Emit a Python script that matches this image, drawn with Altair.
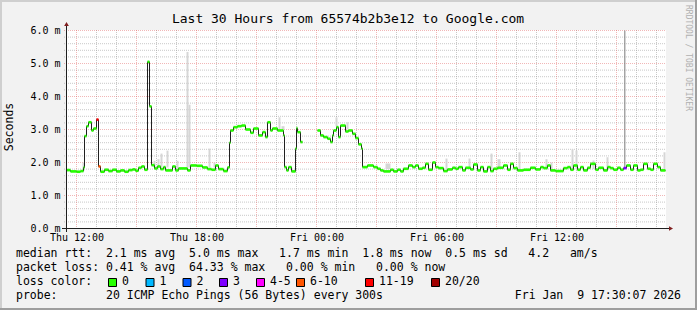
import json
import altair as alt
import numpy as np
import pandas as pd

# ---------------- data ----------------
# minutes after Thu 11:30 (start of the 30 hour window); None = no data from here on
median_min = [0, 12, 30, 42, 51, 54, 60, 66, 75, 81, 90, 96, 102, 114, 126, 138, 150, 162, 174, 186,
              198, 207, 216, 225, 234, 243, 249, 255, 264, 273, 282, 291, 297, 318, 327, 336, 363, 372, 390, 408,
              423, 435, 447, 456, 471, 483, 489, 492, 501, 513, 525, 537, 552, 561, 576, 588, 597, 603, 612, 618,
              633, 651, 654, 660, 666, 675, 687, 690, 693, 702, 708, 753, 762, 771, 783, 792, 798, 801, 810, 816,
              822, 837, 846, 858, 867, 876, 885, 888, 903, 921, 933, 942, 951, 972, 981, 993, 1002, 1011, 1026, 1038,
              1047, 1056, 1068, 1077, 1086, 1098, 1107, 1116, 1131, 1143, 1158, 1167, 1176, 1188, 1197, 1212, 1221, 1233, 1242, 1251,
              1263, 1272, 1281, 1293, 1311, 1323, 1332, 1341, 1353, 1371, 1392, 1407, 1422, 1431, 1443, 1452, 1467, 1491, 1503, 1512,
              1521, 1533, 1542, 1551, 1563, 1572, 1587, 1596, 1611, 1623, 1632, 1641, 1653, 1662, 1671, 1680, 1692, 1701, 1713, 1722,
              1731, 1743, 1752, 1761, 1773, 1782, 1797]
median_ms = [1.77, 1.73, 1.72, 1.74, 1.85, 2.80, 3.10, 3.22, 2.97, 3.03, 3.30, 1.88, 1.72, 1.78, 1.74, 1.78, 1.73, 1.76, 1.72, 1.77,
             1.79, 1.75, 1.84, 1.88, 1.78, 5.05, 3.70, 1.92, 1.82, 1.88, 1.80, 1.86, 1.76, 1.88, 1.76, 1.82, 1.76, 1.91, 1.90, 1.85,
             1.80, 1.78, 1.91, 1.80, 1.74, 1.85, 2.60, 2.97, 3.07, 3.10, 3.12, 3.00, 2.90, 3.03, 2.82, 2.92, 2.77, 3.22, 2.97, 3.03,
             2.97, 2.82, 1.86, 1.76, 1.86, 1.73, 2.42, 3.04, 2.92, 2.62, None, 2.97, 2.82, 2.77, 2.72, 2.62, 2.82, 2.97, 3.07, 2.77,
             3.12, 2.94, 2.97, 2.87, 2.74, 2.55, 2.42, 1.86, 1.91, 1.86, 1.81, 1.76, 1.73, 1.78, 1.73, 1.78, 1.73, 1.81, 1.91, 1.86,
             1.91, 1.81, 1.84, 1.96, 1.78, 2.00, 1.86, 1.83, 1.74, 1.79, 1.84, 1.81, 1.86, 1.76, 1.84, 1.79, 1.94, 1.76, 1.86, 1.73,
             1.86, 1.74, 1.81, 1.84, 1.91, 1.78, 1.96, 1.83, 1.76, 1.78, 1.84, 1.79, 1.86, 1.83, 1.91, 1.76, 1.74, 1.83, 1.86, 1.78,
             1.91, 1.78, 1.86, 1.76, 1.84, 1.96, 1.78, 1.84, 1.76, 1.86, 1.83, 1.78, 1.84, 1.78, 1.83, 1.91, 1.78, 1.91, 1.76, 1.78,
             1.96, 1.81, 1.78, 1.96, 1.86, 1.76, None]
assert len(median_min) == len(median_ms)

# samples with packet loss (all others lost 0 of 20)
loss_event_min = [90, 96, 1671]
loss_event_cat = ["11-19", "6-10", "3"]

loss_labels = ["0", "1", "2", "3", "4-5", "6-10", "11-19", "20/20"]
loss_colors = ["#26ff00", "#00b8ff", "#0059ff", "#7e00ff", "#ff00ff", "#ff5500", "#ff0000", "#a10000"]

# smoke (spread of the 20 pings) in minutes / ms
smoke_start = [48, 261, 273, 282, 300, 330, 360, 366, 426, 441, 636, 645, 807, 840, 957, 1137, 1206, 1272, 1293, 1356,
               1437, 1452, 1515, 1527, 1578, 1620, 1791]
smoke_end = [54, 267, 279, 288, 306, 336, 366, 372, 432, 447, 642, 654, 813, 846, 972, 1143, 1212, 1278, 1302, 1362,
             1443, 1458, 1521, 1533, 1584, 1626, 1797]
smoke_low = [1.75, 1.85, 1.85, 1.85, 1.85, 1.80, 1.85, 1.85, 1.85, 1.85, 3.00, 3.00, 3.10, 3.00, 1.80, 1.80, 1.80, 1.80, 1.80, 1.80,
             1.80, 1.80, 1.80, 1.80, 1.80, 1.80, 1.80]
smoke_high = [2.00, 2.05, 2.10, 2.27, 2.36, 2.05, 5.35, 3.75, 2.42, 2.00, 3.37, 3.10, 3.37, 3.22, 1.97, 2.12, 2.12, 2.27, 2.10, 2.31,
              2.10, 2.00, 2.40, 2.36, 2.06, 2.16, 2.31]

# single slow ping far above the scale
outlier_min = [1675]
outlier_low = [1.85]
outlier_high = [6.0]

x_tick_min = [30, 390, 750, 1110, 1470]
x_tick_labels = ["Thu 12:00", "Thu 18:00", "Fri 00:00", "Fri 06:00", "Fri 12:00"]
y_ticks = [0, 1, 2, 3, 4, 5, 6]

title_text = "Last 30 Hours from 65574b2b3e12 to Google.com"
legend_rtt = "median rtt:  2.1 ms avg  5.0 ms max   1.7 ms min  1.8 ms now  0.5 ms sd   4.2   am/s"
legend_loss = "packet loss: 0.41 % avg  64.33 % max   0.00 % min   0.00 % now"
legend_color = "loss color:"
legend_probe = "probe:       20 ICMP Echo Pings (56 Bytes) every 300s"
legend_date = "Fri Jan  9 17:30:07 2026"
watermark = "RRDTOOL / TOBI OETIKER"

# ---------------- layout ----------------
FONT = "DejaVu Sans Mono"
W, H = 600, 198
LEFT, TOP = 66, 30
BAND = 0.04
loss_box_px = [108, 145.5, 182.5, 219, 256, 296, 365, 431]

XS = alt.Scale(domain=[0, 1800], range=[0.5, W + 0.5], nice=False, zero=False)
YS = alt.Scale(domain=[0, 6], range=[H + 0.5, 0.5], nice=False, zero=False)
label_expr = f"{json.dumps(x_tick_labels)}[indexof({json.dumps(x_tick_min)}, datum.value)]"
X_AX = alt.Axis(values=x_tick_min, labelExpr=label_expr, grid=False, ticks=False, domain=False,
                labelFont=FONT, labelFontSize=10, labelColor="#000000", labelPadding=4,
                labelFlush=False, labelOverlap=False, title=None)
Y_AX = alt.Axis(values=y_ticks, labelExpr="format(datum.value, '.1f') + ' m'", grid=False, ticks=False,
                domain=False, labelFont=FONT, labelFontSize=10, labelColor="#000000", labelPadding=6,
                labelOverlap=False, title=None)


def ax(px):
    return px - LEFT


def ay(py):
    return py - TOP


one = pd.DataFrame({"k": [0]})


def txt(s, x, y, size=11.5, align="left", color="#000000", angle=0):
    s = s.replace(" ", "\u00a0")
    return alt.Chart(pd.DataFrame({"s": [s]})).mark_text(
        font=FONT, fontSize=size, align=align, baseline="middle", color=color, angle=angle
    ).encode(text="s:N", x=alt.value(x), y=alt.value(y))


def hline(x1, x2, y, color, w=1):
    return alt.Chart(one).mark_rule(color=color, strokeWidth=w).encode(
        x=alt.value(x1), x2=alt.value(x2), y=alt.value(y))


def vline(x, y1, y2, color, w=1):
    return alt.Chart(one).mark_rule(color=color, strokeWidth=w).encode(
        x=alt.value(x), y=alt.value(y1), y2=alt.value(y2))


# median rows split into segments at gaps
rows, seg, prev = [], 0, None
for t, v in zip(median_min, median_ms):
    if v is None:
        if prev is not None:
            rows.append({"t": t, "v": prev, "seg": seg})
        seg += 1
        prev = None
        continue
    rows.append({"t": t, "v": v, "seg": seg})
    prev = v
med = pd.DataFrame(rows)

loss_lookup = dict(zip(loss_event_min, loss_event_cat))
bands = []
for s, g in med.groupby("seg"):
    g = g.reset_index(drop=True)
    for i in range(len(g) - 1):
        t = int(g.t[i])
        bands.append({"t": t, "t2": int(g.t[i + 1]), "lo": g.v[i] - BAND, "hi": g.v[i] + BAND,
                      "loss": loss_lookup.get(t, "0")})
bands = pd.DataFrame(bands)

minor_x = [m for m in range(30, 1800, 60) if (m - 30) % 180 != 0]
major_x = list(range(30, 1800, 180))
minor_y = [round(v, 1) for v in np.arange(0.2, 6.01, 0.2) if abs(v - round(v)) > 1e-6]
major_y = [1, 2, 3, 4, 5, 6]

GRID = dict(color="#9a9a9a", opacity=0.55, strokeDash=[1, 1], strokeWidth=1)
MGRID = dict(color="#e06060", opacity=0.45, strokeDash=[1, 1], strokeWidth=1)

layers = []
layers.append(alt.Chart(pd.DataFrame({"m": minor_x})).mark_rule(**GRID).encode(
    x=alt.X("m:Q", scale=XS, axis=X_AX), y=alt.value(0), y2=alt.value(H + 2)))
layers.append(alt.Chart(pd.DataFrame({"v": minor_y})).mark_rule(**GRID).encode(
    y=alt.Y("v:Q", scale=YS, axis=Y_AX), x=alt.value(-2), x2=alt.value(W)))
layers.append(alt.Chart(pd.DataFrame({"m": major_x})).mark_rule(**MGRID).encode(
    x=alt.X("m:Q", scale=XS, axis=X_AX), y=alt.value(0), y2=alt.value(H + 2)))
layers.append(alt.Chart(pd.DataFrame({"v": major_y})).mark_rule(**MGRID).encode(
    y=alt.Y("v:Q", scale=YS, axis=Y_AX), x=alt.value(-2), x2=alt.value(W)))

smoke = pd.DataFrame({"s": smoke_start, "e": smoke_end, "lo": smoke_low, "hi": smoke_high})
layers.append(alt.Chart(smoke).mark_rect(color="#d6d6d6").encode(
    x=alt.X("s:Q", scale=XS, axis=X_AX), x2="e:Q",
    y=alt.Y("lo:Q", scale=YS, axis=Y_AX), y2="hi:Q"))

outl = pd.DataFrame({"m": outlier_min, "lo": outlier_low, "hi": outlier_high})
layers.append(alt.Chart(outl).mark_rule(color="#7a7a7a", strokeWidth=1).encode(
    x=alt.X("m:Q", scale=XS, axis=X_AX), y=alt.Y("lo:Q", scale=YS, axis=Y_AX), y2="hi:Q"))

layers.append(alt.Chart(med).mark_line(interpolate="step-after", color="#202020", strokeWidth=1).encode(
    x=alt.X("t:Q", scale=XS, axis=X_AX), y=alt.Y("v:Q", scale=YS, axis=Y_AX), detail="seg:N"))

layers.append(alt.Chart(bands).mark_rect().encode(
    x=alt.X("t:Q", scale=XS, axis=X_AX), x2="t2:Q",
    y=alt.Y("lo:Q", scale=YS, axis=Y_AX), y2="hi:Q",
    color=alt.Color("loss:N", scale=alt.Scale(domain=loss_labels, range=loss_colors), legend=None)))

# axes lines and arrows
AXIS_COL = "#1f1f1f"
ARROW_COL = "#801f1f"
layers.append(vline(0.5, -5, H + 4, AXIS_COL))
layers.append(hline(-4, W + 4, H + 0.5, AXIS_COL))
layers.append(alt.Chart(one).mark_point(shape="triangle-up", filled=True, size=22, color=ARROW_COL, opacity=1).encode(
    x=alt.value(0.5), y=alt.value(-6)))
layers.append(alt.Chart(one).mark_point(shape="triangle-right", filled=True, size=22, color=ARROW_COL, opacity=1).encode(
    x=alt.value(W + 5), y=alt.value(H + 0.5)))

# frame shading
layers.append(hline(ax(0), ax(697), ay(1), "#cfcfcf", 2))
layers.append(vline(ax(1), ay(0), ay(310), "#cfcfcf", 2))
layers.append(hline(ax(0), ax(697), ay(309), "#9e9e9e", 2))
layers.append(vline(ax(696), ay(0), ay(310), "#9e9e9e", 2))

# texts
layers.append(txt(title_text, ax(348), ay(19), size=13, align="center"))
layers.append(txt("Seconds", ax(10), ay(127), size=11.5, align="center", angle=270))
layers.append(txt(watermark, ax(688), ay(58), size=8, align="center", color="#b0b0b0", angle=90))
layers.append(txt(legend_rtt, ax(16), ay(254)))
layers.append(txt(legend_loss, ax(16), ay(268)))
layers.append(txt(legend_color, ax(16), ay(282)))
layers.append(txt(legend_probe, ax(16), ay(296)))
layers.append(txt(legend_date, ax(681), ay(296), align="right"))

for lab, col, px in zip(loss_labels, loss_colors, loss_box_px):
    layers.append(alt.Chart(one).mark_rect(fill=col, stroke="#000000", strokeWidth=1).encode(
        x=alt.value(ax(px) + 0.5), x2=alt.value(ax(px) + 8.5), y=alt.value(ay(278) + 0.5), y2=alt.value(ay(286) + 0.5)))
    layers.append(txt(lab, ax(px) + 14, ay(282)))

chart = alt.layer(*layers).properties(
    width=W, height=H,
    autosize=alt.AutoSizeParams(type="none"),
    padding={"left": LEFT, "top": TOP, "right": 697 - LEFT - W, "bottom": 310 - TOP - H},
    background="#f2f2f2",
).configure_view(strokeWidth=0, fill="#ffffff")

chart.save("out.html", embed_options={"renderer": "svg", "actions": False})
